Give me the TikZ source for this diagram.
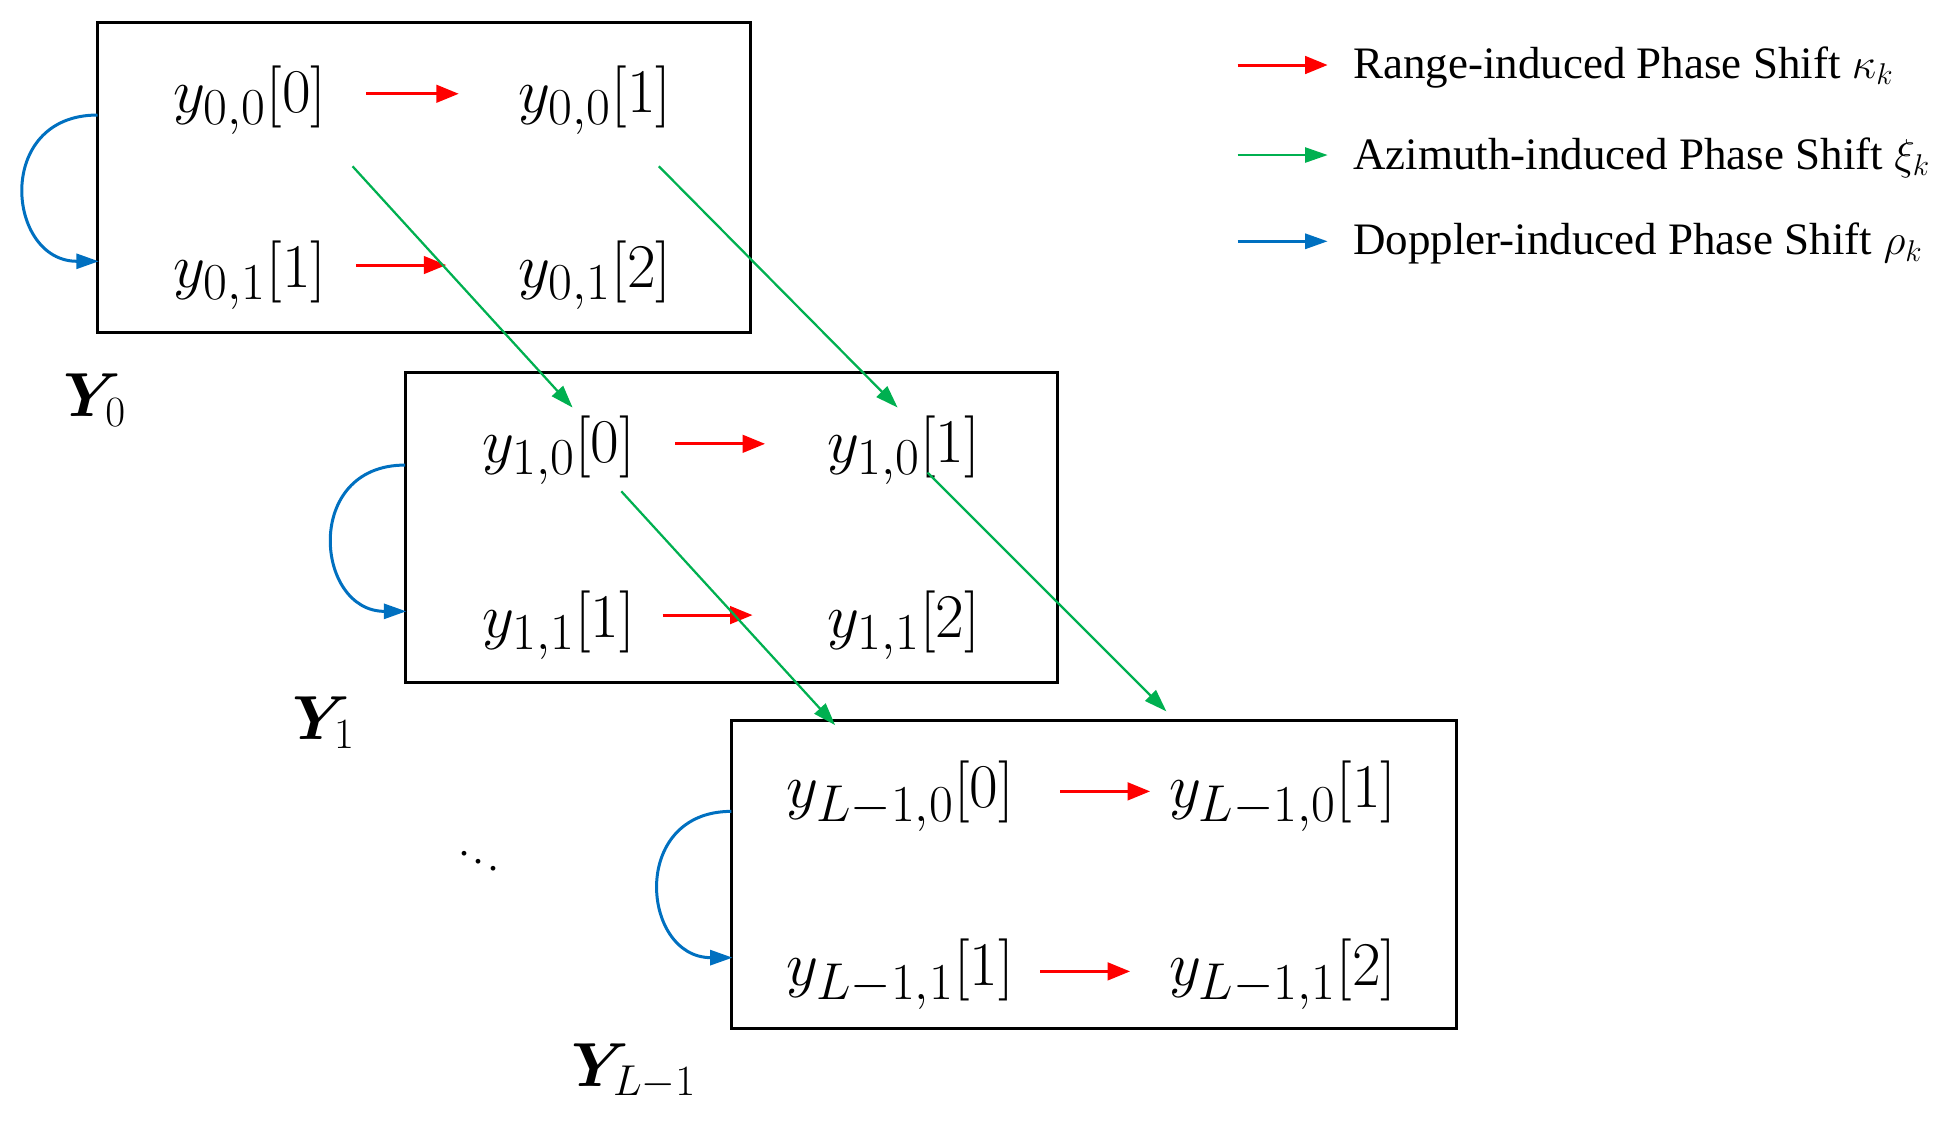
\documentclass[tikz,border=0pt]{standalone}
\usepackage{amsmath,bm}
\usepackage{fontspec}
\setmainfont{Liberation Serif}
\usetikzlibrary{arrows.meta}
\definecolor{rr}{RGB}{255,0,0}
\definecolor{gg}{RGB}{0,176,80}
\definecolor{bb}{RGB}{0,112,192}
\begin{document}
\begin{tikzpicture}[x=0.5pt,y=-0.5pt,
 box/.style={draw,line width=1.2pt},
 ent/.style={font=\fontsize{32}{34}\selectfont,inner sep=0},
 lab/.style={font=\fontsize{27}{30}\selectfont,inner sep=0},
 leg/.style={font=\fontsize{18}{20}\selectfont,anchor=west,inner sep=0},
 ra/.style={rr,line width=1.2pt,-{Triangle[length=9pt,width=7pt]}},
 ga/.style={gg,line width=0.9pt,-{Triangle[length=9pt,width=6pt]}},
 ba/.style={bb,line width=1.2pt,-{Triangle[length=9pt,width=6pt]}}]
\useasboundingbox (0,0) rectangle (1563,896);
% boxes
\node[box,minimum width=261pt,minimum height=124pt,inner sep=0] (B0) at (339,142) {};
\node[box,minimum width=261pt,minimum height=124pt,inner sep=0] (B1) at (585,422) {};
\node[box,minimum width=290pt,minimum height=123.5pt,inner sep=0] (B2) at (875,699.5) {};
% entries
\node[ent] (a00) at (200,80) {$y_{0,0}[0]$};
\node[ent] (a01) at (476,80) {$y_{0,0}[1]$};
\node[ent] (a10) at (200,220) {$y_{0,1}[1]$};
\node[ent] (a11) at (476,220) {$y_{0,1}[2]$};
\node[ent] (b00) at (447,360) {$y_{1,0}[0]$};
\node[ent] (b01) at (723,360) {$y_{1,0}[1]$};
\node[ent] (b10) at (447,500) {$y_{1,1}[1]$};
\node[ent] (b11) at (723,500) {$y_{1,1}[2]$};
\node[ent] (c00) at (720,637) {$y_{L-1,0}[0]$};
\node[ent] (c01) at (1026,637) {$y_{L-1,0}[1]$};
\node[ent] (c10) at (720,779) {$y_{L-1,1}[1]$};
\node[ent] (c11) at (1026,779) {$y_{L-1,1}[2]$};
% labels
\node[lab] (Y0) at (76,320) {$\bm{Y}_0$};
\node[lab] (Y1) at (259,578) {$\bm{Y}_1$};
\node[lab] (YL) at (507,857) {$\bm{Y}_{L-1}$};
\node[font=\fontsize{16}{18}\selectfont,inner sep=0] (dd) at (383,683) {$\ddots$};
% coordinates
\coordinate (r1s) at (293,75); \coordinate (r1e) at (367,75);
\coordinate (r2s) at (285,212); \coordinate (r2e) at (357,212);
\coordinate (r3s) at (540,355); \coordinate (r3e) at (612,355);
\coordinate (r4s) at (530,492); \coordinate (r4e) at (602,492);
\coordinate (r5s) at (848,633); \coordinate (r5e) at (920,633);
\coordinate (r6s) at (832,777); \coordinate (r6e) at (904,777);
\draw[ra] (r1s) -- (r1e); \draw[ra] (r2s) -- (r2e); \draw[ra] (r3s) -- (r3e);
\draw[ra] (r4s) -- (r4e); \draw[ra] (r5s) -- (r5e); \draw[ra] (r6s) -- (r6e);
\coordinate (g1s) at (282,133); \coordinate (g1e) at (458,326);
\coordinate (g2s) at (527,133); \coordinate (g2e) at (718,326);
\coordinate (g3s) at (497,393); \coordinate (g3e) at (668,580);
\coordinate (g4s) at (742,378); \coordinate (g4e) at (933,569);
\draw[ga] (g1s) -- (g1e); \draw[ga] (g2s) -- (g2e);
\draw[ga] (g3s) -- (g3e); \draw[ga] (g4s) -- (g4e);
\coordinate (d1s) at (78,92); \coordinate (d1e) at (79,209);
\coordinate (d2s) at (324,372); \coordinate (d2e) at (325,489);
\coordinate (d3s) at (585,649); \coordinate (d3e) at (586,766);
\draw[ba] (d1s) .. controls (-5,92) and (5,209) .. (d1e);
\draw[ba] (d2s) .. controls (242,372) and (252,489) .. (d2e);
\draw[ba] (d3s) .. controls (503,649) and (513,766) .. (d3e);
% legend
\coordinate (l1s) at (990,52); \coordinate (l1e) at (1062,52);
\coordinate (l2s) at (990,124); \coordinate (l2e) at (1062,124);
\coordinate (l3s) at (990,193); \coordinate (l3e) at (1062,193);
\draw[ra] (l1s) -- (l1e); \draw[ga] (l2s) -- (l2e); \draw[ba] (l3s) -- (l3e);
\node[leg] (t1) at (1082,54) {Range-induced Phase Shift $\kappa_k$};
\node[leg] (t2) at (1082,126) {Azimuth-induced Phase Shift $\xi_k$};
\node[leg] (t3) at (1082,195) {Doppler-induced Phase Shift $\rho_k$};
\end{tikzpicture}
\end{document}
